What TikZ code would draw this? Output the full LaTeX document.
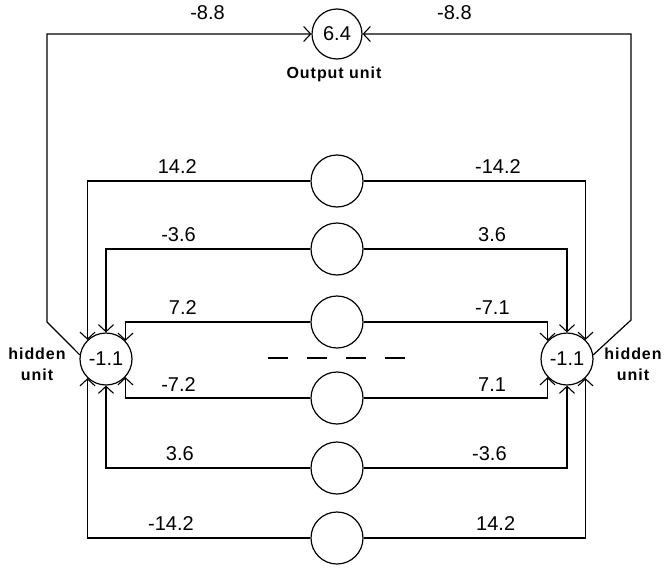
\documentclass[tikz,border=0pt]{standalone}
\usepackage{fontspec}
\setmainfont{Liberation Sans}
\newfontfamily\namefont[LetterSpace=6]{Liberation Sans}
\usetikzlibrary{arrows.meta}
\tikzset{
  unit/.style={circle,draw,line width=1.2pt,minimum size=52pt,inner sep=0pt,font=\fontsize{20}{20}\selectfont},
  conn/.style={line width=1.2pt},
  arr/.style={conn,-{Straight Barb[length=7pt,width=15pt,line width=1.1pt]}},
  wlab/.style={font=\fontsize{20}{20}\selectfont,inner sep=0pt},
  nlab/.style={font=\fontsize{16}{19}\selectfont\namefont\bfseries,inner sep=0pt,align=center}
}
\begin{document}
\begin{tikzpicture}[x=1pt,y=-1pt]
\useasboundingbox (0,0) rectangle (667,573);
% units
\node[unit,minimum size=50pt] (out) at (337,34) {6.4};
\node[unit] (hl) at (106,359) {-1.1};
\node[unit] (hr) at (567,359) {-1.1};
\node[unit] (m1) at (337,181) {};
\node[unit] (m2) at (337,249) {};
\node[unit] (m3) at (337,322) {};
\node[unit] (m4) at (337,398) {};
\node[unit] (m5) at (337,468) {};
\node[unit] (m6) at (337,538) {};
% names
\node[nlab] (outlab) at (334,74) {Output unit};
\node[nlab] (hllab) at (37,364) {hidden\\[2pt]unit};
\node[nlab] (hrlab) at (633,364) {hidden\\[2pt]unit};
% hidden -> output
\coordinate (cl) at (47,322);
\coordinate (cr) at (631,320);
\draw[arr] (hl.171) -- (cl) |- (out.west);
\draw[arr] (hr.9) -- (cr) |- (out.east);
% middle -> left hidden
\draw[arr] (m1.west) -| (hl.134);
\draw[arr] (m2.west) -| (hl.north);
\draw[arr] (m3.west) -| (hl.43);
\draw[arr] (m4.west) -| (hl.-43);
\draw[arr] (m5.west) -| (hl.south);
\draw[arr] (m6.west) -| (hl.-134);
% middle -> right hidden
\draw[arr] (m1.east) -| (hr.46);
\draw[arr] (m2.east) -| (hr.north);
\draw[arr] (m3.east) -| (hr.137);
\draw[arr] (m4.east) -| (hr.-137);
\draw[arr] (m5.east) -| (hr.south);
\draw[arr] (m6.east) -| (hr.-46);
% dashes
\draw[line width=2pt,dash pattern=on 20pt off 19pt] (268,358) -- (406,358);
% weights
\node[wlab,anchor=east] (w01) at (225,13) {-8.8};
\node[wlab,anchor=west] (w02) at (437,13) {-8.8};
\node[wlab,anchor=east] (w11) at (197,167) {14.2};
\node[wlab,anchor=west] (w12) at (475,167) {-14.2};
\node[wlab,anchor=east] (w21) at (196,235) {-3.6};
\node[wlab,anchor=west] (w22) at (478,235) {3.6};
\node[wlab,anchor=east] (w31) at (197,308) {7.2};
\node[wlab,anchor=west] (w32) at (475,308) {-7.1};
\node[wlab,anchor=east] (w41) at (196,385) {-7.2};
\node[wlab,anchor=west] (w42) at (478,385) {7.1};
\node[wlab,anchor=east] (w51) at (194,454) {3.6};
\node[wlab,anchor=west] (w52) at (472,454) {-3.6};
\node[wlab,anchor=east] (w61) at (194,524) {-14.2};
\node[wlab,anchor=west] (w62) at (476,524) {14.2};
\end{tikzpicture}
\end{document}
